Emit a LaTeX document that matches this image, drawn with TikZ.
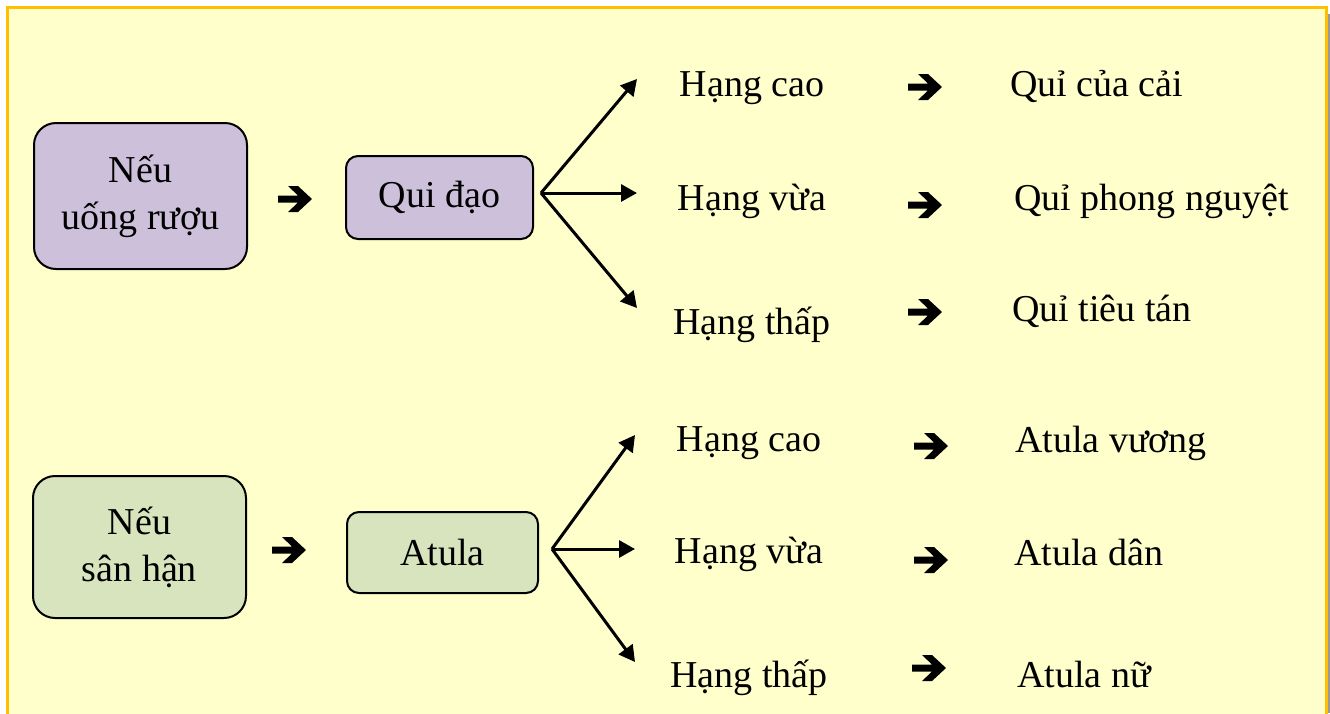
\documentclass[tikz,border=0pt]{standalone}
\usepackage{fontspec}
\setmainfont{Liberation Serif}
\usetikzlibrary{arrows.meta}
\definecolor{bgyellow}{HTML}{FFFFCC}
\definecolor{goldline}{HTML}{FFC000}
\definecolor{lav}{HTML}{CCC0DA}
\definecolor{sage}{HTML}{D7E4BD}
\tikzset{
  txt/.style={font=\fontsize{38}{44}\selectfont, inner sep=0pt, anchor=base},
  ltxt/.style={font=\fontsize{38}{44}\selectfont, inner sep=0pt, anchor=base west},
  bigbox/.style={draw=black, line width=2pt, rounded corners=22pt, minimum width=213pt, align=center, font=\fontsize{38}{47}\selectfont, inner sep=0pt},
  smallbox/.style={draw=black, line width=2pt, rounded corners=12pt, font=\fontsize{38}{44}\selectfont, inner sep=0pt},
  fan/.style={line width=3pt, -{Triangle[length=16pt,width=17pt]}},
  bigarrow/.pic={\fill[black] (-17,-3.5) -- (3,-3.5) -- (-7,-13) -- (3,-13) -- (17,0) -- (3,13) -- (-7,13) -- (3,3.5) -- (-17,3.5) -- cycle;},
}
\begin{document}
\begin{tikzpicture}[x=1pt,y=-1pt]
\useasboundingbox (0,0) rectangle (1330,713);
\fill[white] (0,0) rectangle (1330,713);
\fill[gray!80] (1324,14) rectangle (1330,713);
\fill[bgyellow] (7,7) rectangle (1326,720);
\draw[goldline, line width=3pt] (7,720) -- (7,7) -- (1326,7) -- (1326,720);

% top group
\node[bigbox, fill=lav, minimum height=146pt] (b1) at (140.5,196) {Nếu\\uống rượu};
\pic (g1) at (295,199) {bigarrow};
\node[smallbox, fill=lav, minimum width=187pt, minimum height=83pt] (b2) at (439.5,197.5) {Qui đạo};
\coordinate (o1) at (541,193);
\coordinate (e11) at (637,79);
\coordinate (e12) at (637,193);
\coordinate (e13) at (637,308);
\draw[fan] (o1) -- (e11);
\draw[fan] (o1) -- (e12);
\draw[fan] (o1) -- (e13);
\node[txt] (h11) at (752,96) {Hạng cao};
\node[txt] (h12) at (752,210) {Hạng vừa};
\node[txt] (h13) at (752,334) {Hạng thấp};
\pic (g11) at (925,87) {bigarrow};
\pic (g12) at (925,205) {bigarrow};
\pic (g13) at (925,312) {bigarrow};
\node[ltxt] (r11) at (1010,96) {Quỉ của cải};
\node[ltxt] (r12) at (1014,210) {Quỉ phong nguyệt};
\node[ltxt] (r13) at (1012,321) {Quỉ tiêu tán};

% bottom group
\node[bigbox, fill=sage, minimum height=142pt] (b3) at (139.5,547) {Nếu\\sân hận};
\pic (g2) at (289,550) {bigarrow};
\node[smallbox, fill=sage, minimum width=191pt, minimum height=81pt] (b4) at (442.5,552.5) {Atula};
\coordinate (o2) at (552,549);
\coordinate (e21) at (635,435);
\coordinate (e22) at (635,549);
\coordinate (e23) at (635,662);
\draw[fan] (o2) -- (e21);
\draw[fan] (o2) -- (e22);
\draw[fan] (o2) -- (e23);
\node[txt] (h21) at (749,451) {Hạng cao};
\node[txt] (h22) at (749,563) {Hạng vừa};
\node[txt] (h23) at (749,687) {Hạng thấp};
\pic (g21) at (931,446) {bigarrow};
\pic (g22) at (931,560) {bigarrow};
\pic (g23) at (929,668) {bigarrow};
\node[ltxt] (r21) at (1015,452) {Atula vương};
\node[ltxt] (r22) at (1014,565) {Atula dân};
\node[ltxt] (r23) at (1017,687) {Atula nữ};
\end{tikzpicture}
\end{document}
